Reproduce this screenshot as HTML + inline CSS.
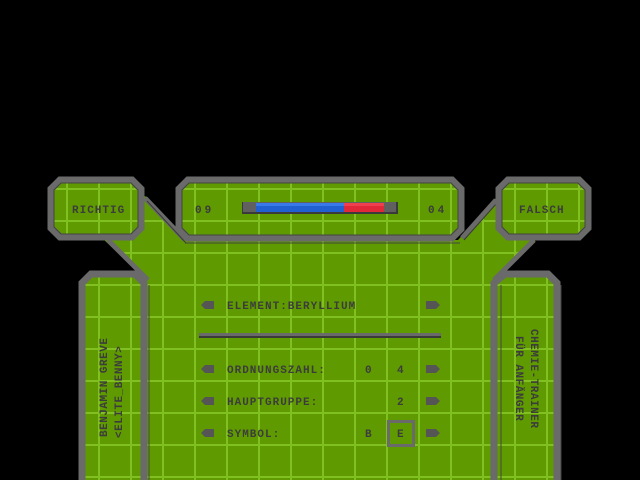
<!DOCTYPE html>
<html><head><style>
html,body{margin:0;padding:0;background:#000;width:640px;height:480px;overflow:hidden}
svg{display:block}
text{font-family:"Liberation Mono",monospace;font-weight:bold;fill:#3c3c3c;font-size:11px}
</style></head><body>
<svg width="640" height="480" viewBox="0 0 640 480" xmlns="http://www.w3.org/2000/svg">
<defs>
<pattern id="g" x="0" y="0" width="32" height="32" patternUnits="userSpaceOnUse">
<rect width="32" height="32" fill="#5f9b00"/>
<rect x="2" y="0" width="2" height="32" fill="#80c020"/>
<rect x="0" y="28" width="32" height="2" fill="#80c020"/>
</pattern>
</defs>
<rect width="640" height="480" fill="#000"/>
<!-- green central area -->
<polygon points="100,236 145,196 188,240 458,240 496,198 540,236 494,280 494,480 146,480 146,280" fill="url(#g)"/>
<!-- diagonal connectors -->
<g stroke="#6a6a6a" stroke-width="5" fill="none">
<line x1="145" y1="198" x2="185" y2="240"/>
<line x1="108" y1="240" x2="148" y2="280"/>
<line x1="462" y1="238" x2="496" y2="200"/>
<line x1="534" y1="240" x2="494" y2="280"/>
</g>
<g stroke="#3a3a3a" stroke-width="1" fill="none">
<line x1="147" y1="201" x2="186" y2="243"/>
<line x1="464" y1="240" x2="497" y2="203"/>
</g>
<!-- boxes -->
<g fill="url(#g)" stroke="#6a6a6a" stroke-width="7" stroke-linejoin="miter">
<polygon points="60,180 132,180 141,189 141,228 132,237 60,237 51,228 51,189"/>
<polygon points="188,180 452,180 461,189 461,229 452,238 188,238 179,229 179,189"/>
<polygon points="508,180 579,180 588,189 588,228 579,237 508,237 499,228 499,189"/>
<polygon points="91,274 135,274 144,283 144,490 82,490 82,283"/>
<polygon points="505,274 548,274 557,283 557,490 494,490 494,283"/>
</g>
<g fill="none" stroke="#444" stroke-width="1">
<polygon points="61,183 131,183 138,190 138,227 131,234 61,234 54,227 54,190"/>
<polygon points="189,183 451,183 458,190 458,228 451,235 189,235 182,228 182,190"/>
<polygon points="509,183 578,183 585,190 585,227 578,234 509,234 502,227 502,190"/>
<line x1="185" y1="243" x2="460" y2="243"/>
<line x1="149" y1="285" x2="149" y2="480"/>
<line x1="501" y1="285" x2="501" y2="480"/>
<line x1="561" y1="285" x2="561" y2="480"/>
</g>
<!-- top labels -->
<text x="72" y="213" letter-spacing="1">RICHTIG</text>
<text x="195" y="213" letter-spacing="3">09</text>
<text x="428" y="213" letter-spacing="3">04</text>
<text x="519" y="213" letter-spacing="1">FALSCH</text>
<!-- bar -->
<rect x="242" y="202" width="156" height="12" fill="#3a3a3a"/>
<rect x="243" y="202" width="153" height="10" fill="#606060"/>
<rect x="256" y="203" width="88" height="9" fill="#2060d0"/>
<rect x="256" y="203" width="88" height="3" fill="#3a7ae8"/>
<rect x="344" y="203" width="40" height="9" fill="#e02838"/>
<rect x="344" y="203" width="40" height="3" fill="#f04050"/>
<!-- rows -->
<g fill="#555">
<polygon points="201,305 205,301 214,301 214,309 205,309"/>
<polygon points="201,369 205,365 214,365 214,373 205,373"/>
<polygon points="201,401 205,397 214,397 214,405 205,405"/>
<polygon points="201,433 205,429 214,429 214,437 205,437"/>
<polygon points="440,305 436,301 426,301 426,309 436,309"/>
<polygon points="440,369 436,365 426,365 426,373 436,373"/>
<polygon points="440,401 436,397 426,397 426,405 436,405"/>
<polygon points="440,433 436,429 426,429 426,437 436,437"/>
</g>
<text x="227" y="309" letter-spacing="1">ELEMENT:BERYLLIUM</text>
<rect x="199" y="333" width="242" height="4" fill="#6a6a6a"/>
<rect x="199" y="336" width="242" height="2" fill="#3a3a3a"/>
<text x="227" y="373" letter-spacing="1">ORDNUNGSZAHL:</text>
<text x="365" y="373">0</text>
<text x="397" y="373">4</text>
<text x="227" y="405" letter-spacing="1">HAUPTGRUPPE:</text>
<text x="397" y="405">2</text>
<text x="227" y="437" letter-spacing="1">SYMBOL:</text>
<text x="365" y="437">B</text>
<rect x="388.5" y="421.5" width="25" height="24" fill="none" stroke="#6a6a6a" stroke-width="3"/>
<text x="397" y="437">E</text>
<!-- vertical texts -->
<text transform="translate(107,437) rotate(-90)" letter-spacing="0.5">BENJAMIN GREVE</text>
<text transform="translate(122,438) rotate(-90)" letter-spacing="0.5">&lt;ELITE_BENNY&gt;</text>
<text transform="translate(531,329) rotate(90)" letter-spacing="0.5">CHEMIE-TRAINER</text>
<text transform="translate(516,336) rotate(90)" letter-spacing="0.5">FÜR ANFÄNGER</text>
</svg>
</body></html>
